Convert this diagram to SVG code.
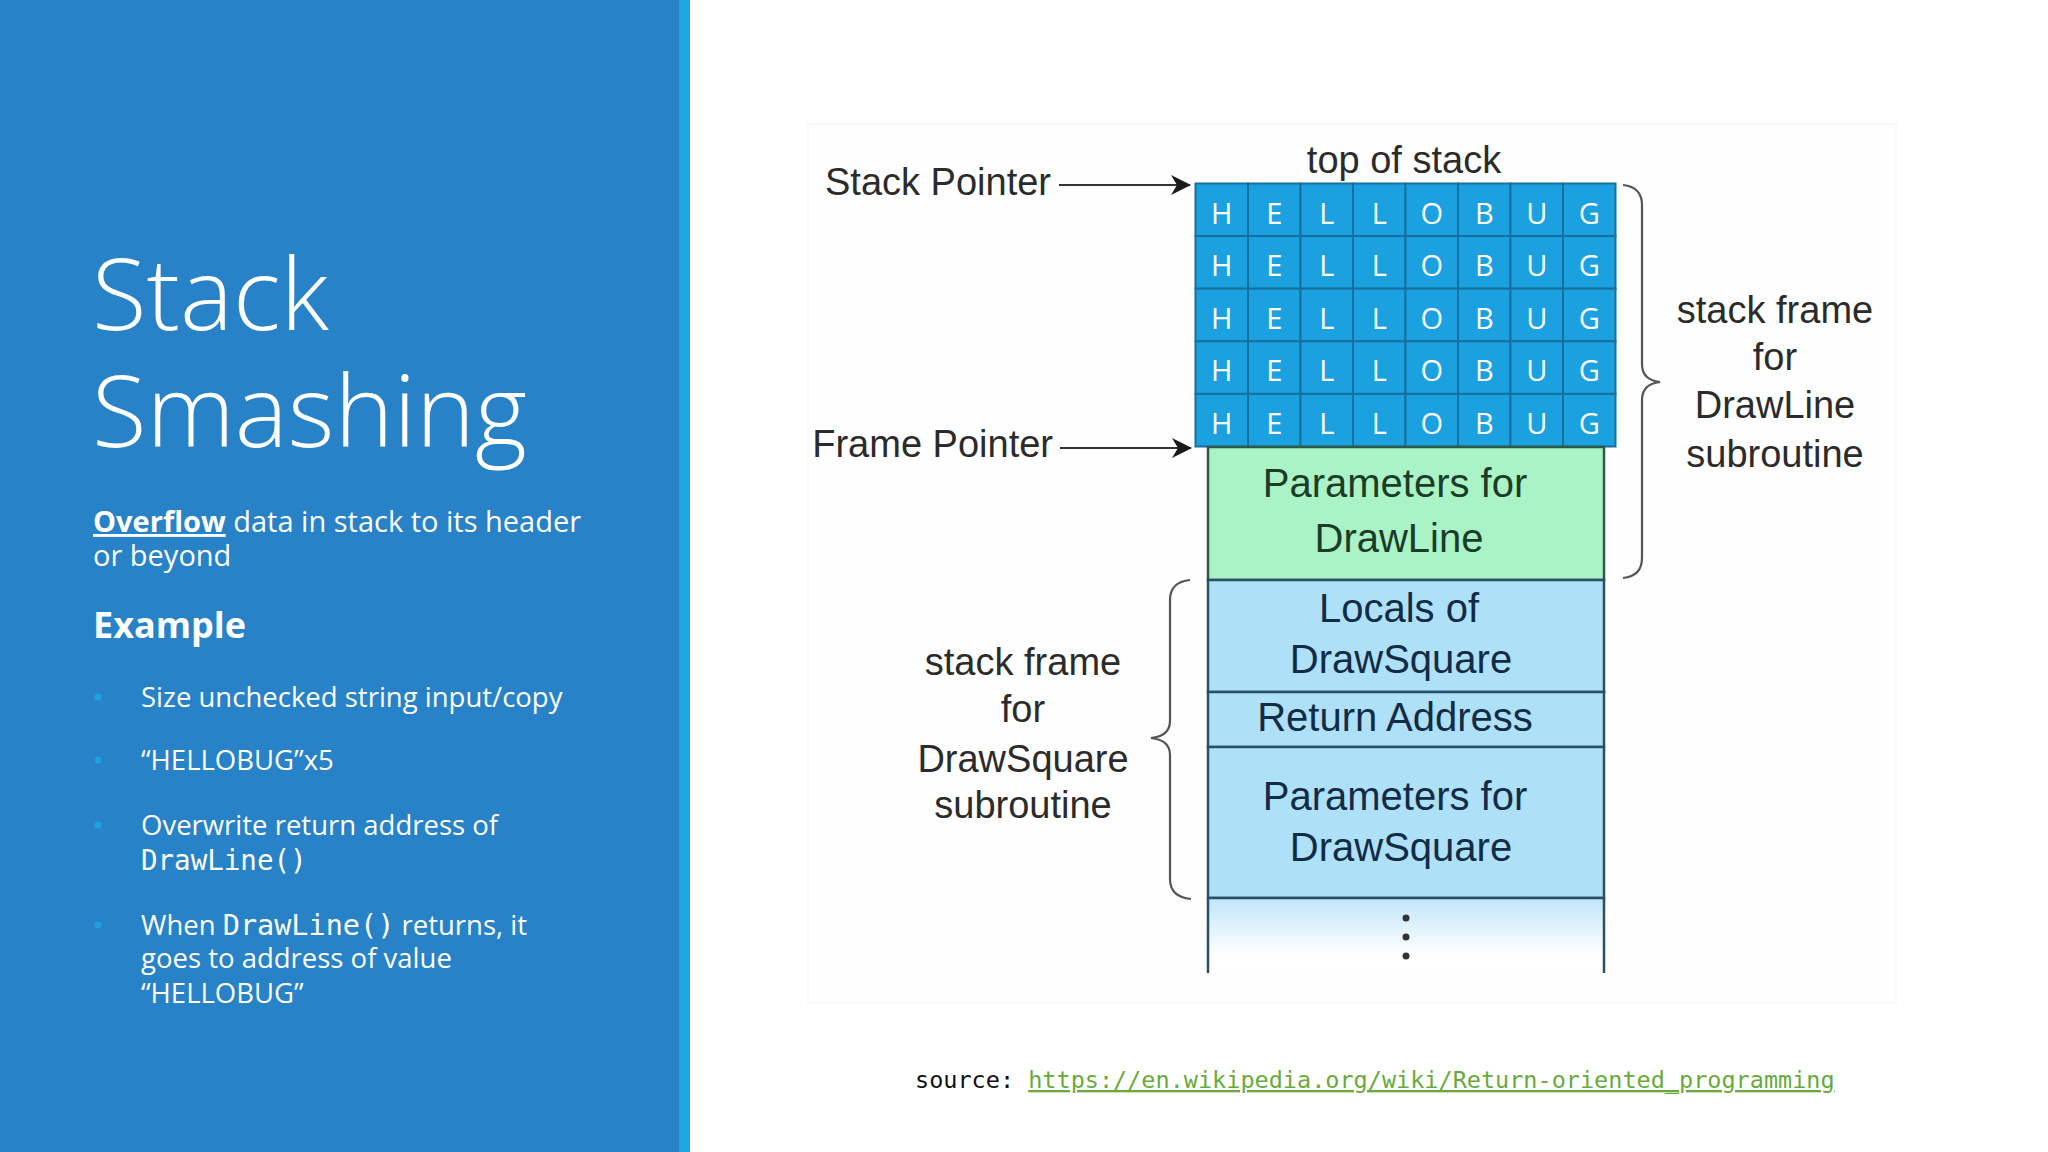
<svg xmlns="http://www.w3.org/2000/svg" width="2048" height="1152" viewBox="0 0 2048 1152">
  <defs>
    <style>
      .title { font-family: "Open Sans", "Liberation Sans", sans-serif; font-weight: 300; font-size: 100px; fill: #ffffff; }
      .body { font-family: "Open Sans", "Liberation Sans", sans-serif; font-size: 27.5px; fill: #ffffff; }
      .lead { font-family: "Open Sans", "Liberation Sans", sans-serif; font-size: 29px; fill: #ffffff; }
      .head { font-family: "Open Sans", "Liberation Sans", sans-serif; font-weight: 700; font-size: 36px; fill: #ffffff; }
      .mono { font-family: "DejaVu Sans Mono", "Liberation Mono", monospace; }
      .lbl { font-family: "Liberation Sans", Arial, sans-serif; font-size: 38px; fill: #2b2b2b; text-anchor: middle; }
      .ptr { font-family: "Liberation Sans", Arial, sans-serif; font-size: 38px; fill: #2b2b2b; text-anchor: end; }
      .cell { fill: #1ba1e0; stroke: #15709f; stroke-width: 2; }
      .ch { font-family: "Open Sans", "Liberation Sans", sans-serif; font-size: 29px; fill: #ffffff; text-anchor: middle; }
      .gbox { fill: #aaf3c6; stroke: #2c5848; stroke-width: 2.5; }
      .bbox { fill: #aee0f8; stroke: #2a4f68; stroke-width: 2.5; }
      .gt { font-family: "Liberation Sans", Arial, sans-serif; font-size: 40px; fill: #1b3d28; text-anchor: middle; }
      .bt { font-family: "Liberation Sans", Arial, sans-serif; font-size: 40px; fill: #132c45; text-anchor: middle; }
      .brace { fill: none; stroke: #555555; stroke-width: 2.2; }
      .arrow { fill: none; stroke: #333333; stroke-width: 2.2; }
    </style>
    <marker id="ah" viewBox="0 0 20 20" refX="19" refY="10" markerWidth="20" markerHeight="20" markerUnits="userSpaceOnUse" orient="auto">
      <path d="M0,0 L20,10 L0,20 L6,10 Z" fill="#1a1a1a"/>
    </marker>
    <linearGradient id="fade" x1="0" y1="0" x2="0" y2="1">
      <stop offset="0" stop-color="#bfe6f8"/>
      <stop offset="0.75" stop-color="#ffffff"/>
    </linearGradient>
  </defs>

  <rect x="0" y="0" width="2048" height="1152" fill="#ffffff"/>

  <!-- left panel -->
  <g id="panel">
    <rect x="0" y="0" width="679" height="1152" fill="#2882c7"/>
    <rect x="679" y="0" width="11" height="1152" fill="#1ea6e2"/>
  </g>

  <g id="title">
    <text class="title" x="92" y="330">Stack</text>
    <text class="title" x="92" y="447">Smashing</text>
  </g>

  <g id="intro">
    <text class="lead" x="93" y="532"><tspan font-weight="700" text-decoration="underline">Overflow</tspan> data in stack to its header</text>
    <text class="lead" x="93" y="566">or beyond</text>
  </g>

  <g id="example">
    <text class="head" x="93" y="638">Example</text>
  </g>

  <g id="bullets">
    <circle cx="98" cy="697" r="3.5" fill="#1ba1e2"/>
    <text class="body" x="141" y="707">Size unchecked string input/copy</text>
    <circle cx="98" cy="760" r="3.5" fill="#1ba1e2"/>
    <text class="body" x="141" y="770">“HELLOBUG”x5</text>
    <circle cx="98" cy="825" r="3.5" fill="#1ba1e2"/>
    <text class="body" x="141" y="835">Overwrite return address of</text>
    <text class="body mono" x="141" y="870" font-size="28.5">DrawLine()</text>
    <circle cx="98" cy="925" r="3.5" fill="#1ba1e2"/>
    <text class="body" x="141" y="935">When <tspan class="mono" font-size="28.5">DrawLine()</tspan> returns, it</text>
    <text class="body" x="141" y="968">goes to address of value</text>
    <text class="body" x="141" y="1003">“HELLOBUG”</text>
  </g>

  <!-- diagram backdrop -->
  <rect x="808" y="124" width="1088" height="879" fill="#fefefe" stroke="#f8f8f8" stroke-width="1.5"/>

  <g id="top-label">
    <text class="lbl" x="1404" y="173" font-size="35">top of stack</text>
  </g>

  <g id="stack-pointer">
    <text class="ptr" x="1051" y="195">Stack Pointer</text>
  </g>
  <g id="frame-pointer">
    <text class="ptr" x="1053" y="457">Frame Pointer</text>
  </g>

  <g id="buffer">
    <g id="buffer-cells">
      <rect class="cell" x="1195.5" y="183.5" width="52.5" height="52.6"/>
      <rect class="cell" x="1248" y="183.5" width="52.5" height="52.6"/>
      <rect class="cell" x="1300.5" y="183.5" width="52.5" height="52.6"/>
      <rect class="cell" x="1353" y="183.5" width="52.5" height="52.6"/>
      <rect class="cell" x="1405.5" y="183.5" width="52.5" height="52.6"/>
      <rect class="cell" x="1458" y="183.5" width="52.5" height="52.6"/>
      <rect class="cell" x="1510.5" y="183.5" width="52.5" height="52.6"/>
      <rect class="cell" x="1563" y="183.5" width="52.5" height="52.6"/>

      <rect class="cell" x="1195.5" y="236.1" width="52.5" height="52.6"/>
      <rect class="cell" x="1248" y="236.1" width="52.5" height="52.6"/>
      <rect class="cell" x="1300.5" y="236.1" width="52.5" height="52.6"/>
      <rect class="cell" x="1353" y="236.1" width="52.5" height="52.6"/>
      <rect class="cell" x="1405.5" y="236.1" width="52.5" height="52.6"/>
      <rect class="cell" x="1458" y="236.1" width="52.5" height="52.6"/>
      <rect class="cell" x="1510.5" y="236.1" width="52.5" height="52.6"/>
      <rect class="cell" x="1563" y="236.1" width="52.5" height="52.6"/>

      <rect class="cell" x="1195.5" y="288.7" width="52.5" height="52.6"/>
      <rect class="cell" x="1248" y="288.7" width="52.5" height="52.6"/>
      <rect class="cell" x="1300.5" y="288.7" width="52.5" height="52.6"/>
      <rect class="cell" x="1353" y="288.7" width="52.5" height="52.6"/>
      <rect class="cell" x="1405.5" y="288.7" width="52.5" height="52.6"/>
      <rect class="cell" x="1458" y="288.7" width="52.5" height="52.6"/>
      <rect class="cell" x="1510.5" y="288.7" width="52.5" height="52.6"/>
      <rect class="cell" x="1563" y="288.7" width="52.5" height="52.6"/>

      <rect class="cell" x="1195.5" y="341.3" width="52.5" height="52.6"/>
      <rect class="cell" x="1248" y="341.3" width="52.5" height="52.6"/>
      <rect class="cell" x="1300.5" y="341.3" width="52.5" height="52.6"/>
      <rect class="cell" x="1353" y="341.3" width="52.5" height="52.6"/>
      <rect class="cell" x="1405.5" y="341.3" width="52.5" height="52.6"/>
      <rect class="cell" x="1458" y="341.3" width="52.5" height="52.6"/>
      <rect class="cell" x="1510.5" y="341.3" width="52.5" height="52.6"/>
      <rect class="cell" x="1563" y="341.3" width="52.5" height="52.6"/>

      <rect class="cell" x="1195.5" y="393.9" width="52.5" height="52.6"/>
      <rect class="cell" x="1248" y="393.9" width="52.5" height="52.6"/>
      <rect class="cell" x="1300.5" y="393.9" width="52.5" height="52.6"/>
      <rect class="cell" x="1353" y="393.9" width="52.5" height="52.6"/>
      <rect class="cell" x="1405.5" y="393.9" width="52.5" height="52.6"/>
      <rect class="cell" x="1458" y="393.9" width="52.5" height="52.6"/>
      <rect class="cell" x="1510.5" y="393.9" width="52.5" height="52.6"/>
      <rect class="cell" x="1563" y="393.9" width="52.5" height="52.6"/>
    </g>
    <g id="buffer-text">
      <text class="ch" y="223.5"><tspan x="1221.75">H</tspan><tspan x="1274.25">E</tspan><tspan x="1326.75">L</tspan><tspan x="1379.25">L</tspan><tspan x="1431.75">O</tspan><tspan x="1484.25">B</tspan><tspan x="1536.75">U</tspan><tspan x="1589.25">G</tspan></text>
      <text class="ch" y="276.1"><tspan x="1221.75">H</tspan><tspan x="1274.25">E</tspan><tspan x="1326.75">L</tspan><tspan x="1379.25">L</tspan><tspan x="1431.75">O</tspan><tspan x="1484.25">B</tspan><tspan x="1536.75">U</tspan><tspan x="1589.25">G</tspan></text>
      <text class="ch" y="328.7"><tspan x="1221.75">H</tspan><tspan x="1274.25">E</tspan><tspan x="1326.75">L</tspan><tspan x="1379.25">L</tspan><tspan x="1431.75">O</tspan><tspan x="1484.25">B</tspan><tspan x="1536.75">U</tspan><tspan x="1589.25">G</tspan></text>
      <text class="ch" y="381.3"><tspan x="1221.75">H</tspan><tspan x="1274.25">E</tspan><tspan x="1326.75">L</tspan><tspan x="1379.25">L</tspan><tspan x="1431.75">O</tspan><tspan x="1484.25">B</tspan><tspan x="1536.75">U</tspan><tspan x="1589.25">G</tspan></text>
      <text class="ch" y="433.9"><tspan x="1221.75">H</tspan><tspan x="1274.25">E</tspan><tspan x="1326.75">L</tspan><tspan x="1379.25">L</tspan><tspan x="1431.75">O</tspan><tspan x="1484.25">B</tspan><tspan x="1536.75">U</tspan><tspan x="1589.25">G</tspan></text>
    </g>
  </g>

  <g id="params-drawline">
    <rect class="gbox" x="1208" y="447" width="396" height="133"/>
    <text class="gt" x="1395" y="497">Parameters for</text>
    <text class="gt" x="1399" y="552">DrawLine</text>
  </g>

  <g id="locals-drawsquare">
    <rect class="bbox" x="1208" y="580" width="396" height="112"/>
    <text class="bt" x="1399" y="622">Locals of</text>
    <text class="bt" x="1401" y="673">DrawSquare</text>
  </g>

  <g id="return-address">
    <rect class="bbox" x="1208" y="692" width="396" height="55"/>
    <text class="bt" x="1395" y="731">Return Address</text>
  </g>

  <g id="params-drawsquare">
    <rect class="bbox" x="1208" y="747" width="396" height="151"/>
    <text class="bt" x="1395" y="810">Parameters for</text>
    <text class="bt" x="1401" y="861">DrawSquare</text>
  </g>

  <g id="stack-continues">
    <rect x="1208" y="898" width="396" height="76" fill="url(#fade)"/>
    <line x1="1208" y1="898" x2="1208" y2="973" stroke="#2a4f68" stroke-width="2.5"/>
    <line x1="1604" y1="898" x2="1604" y2="973" stroke="#2a4f68" stroke-width="2.5"/>
    <line x1="1208" y1="898" x2="1604" y2="898" stroke="#2a4f68" stroke-width="2.5"/>
    <circle cx="1406" cy="918" r="3.5" fill="#333333"/>
    <circle cx="1406" cy="937" r="3.5" fill="#333333"/>
    <circle cx="1406" cy="956" r="3.5" fill="#333333"/>
  </g>

  <g id="drawline-frame-label">
    <text class="lbl" x="1775" y="323">stack frame</text>
    <text class="lbl" x="1775" y="370">for</text>
    <text class="lbl" x="1775" y="418">DrawLine</text>
    <text class="lbl" x="1775" y="467">subroutine</text>
  </g>

  <g id="drawsquare-frame-label">
    <text class="lbl" x="1023" y="675">stack frame</text>
    <text class="lbl" x="1023" y="722">for</text>
    <text class="lbl" x="1023" y="772">DrawSquare</text>
    <text class="lbl" x="1023" y="818">subroutine</text>
  </g>

  <g id="connectors">
    <line class="arrow" x1="1059" y1="185" x2="1190" y2="185" marker-end="url(#ah)"/>
    <line class="arrow" x1="1060" y1="448" x2="1191" y2="448" marker-end="url(#ah)"/>
    <path class="brace" d="M1623,185 Q1642,187 1642,205 L1642,364 Q1642,380 1660,382 Q1642,384 1642,400 L1642,558 Q1642,576 1623,578"/>
    <path class="brace" d="M1190,580 Q1170,582 1170,600 L1170,721 Q1170,736 1151,738 Q1170,740 1170,755 L1170,879 Q1170,897 1191,899"/>
  </g>

  <g id="source">
    <text class="mono" x="915" y="1088" font-size="23.5" fill="#111111">source: <tspan fill="#6aaa3c" text-decoration="underline">https://en.wikipedia.org/wiki/Return-oriented_programming</tspan></text>
  </g>
</svg>
